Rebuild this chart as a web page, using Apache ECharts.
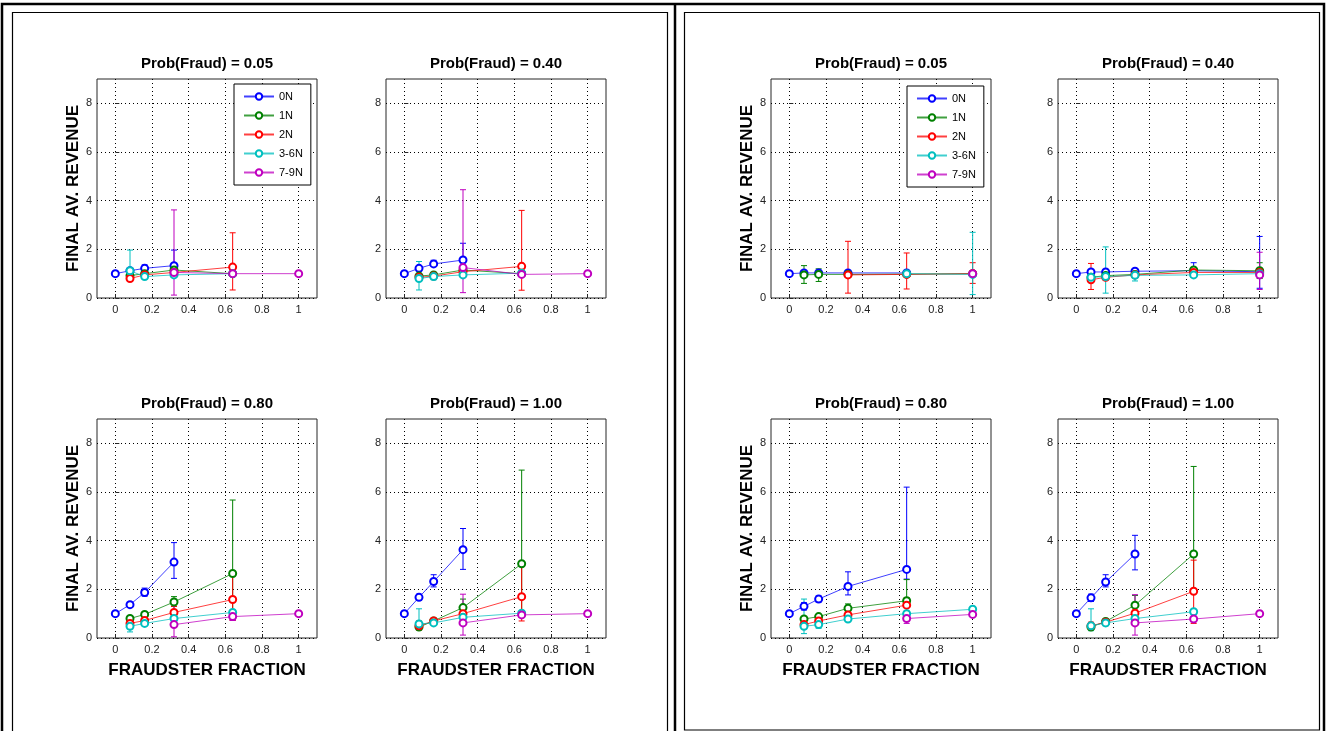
<!DOCTYPE html>
<html>
<head>
<meta charset="utf-8">
<title>Final av. revenue vs fraudster fraction</title>
<script src="https://cdn.jsdelivr.net/npm/echarts@6.0.0/dist/echarts.min.js"></script>
<style>
  html, body { margin: 0; padding: 0; background: #fff; }
  #chart { width: 1327px; height: 731px; }
</style>
</head>
<body>
<div id="chart"></div>
<script>
// shared axes / legend
const xFrac = [0, 0.08, 0.16, 0.32, 0.64, 1]
const xTicks = [0, 0.2, 0.4, 0.6, 0.8, 1]
const yTicks = [0, 2, 4, 6, 8]
const seriesNames = ['0N', '1N', '2N', '3-6N', '7-9N']
const seriesColors = ['#0000ff', '#008000', '#ff0000', '#00bfbf', '#bf00bf']
const probTitles = ['Prob(Fraud) = 0.05', 'Prob(Fraud) = 0.40', 'Prob(Fraud) = 0.80', 'Prob(Fraud) = 1.00']

// left figure: mean revenue, rows = 0N,1N,2N,3-6N,7-9N, cols = xFrac
const meanL05 = [[1.0, 1.12, 1.22, 1.33, null, null], [null, 0.92, 1.0, 1.15, 1.0, null], [null, 0.8, 0.95, 1.05, 1.27, null], [null, 1.12, 0.88, 0.95, 1.0, null], [null, null, null, 1.05, 1.0, 1.0]]
const loL05 = [[0.97, 1.06, 1.08, 0.9, null, null], [null, 0.85, 0.92, 0.95, 0.95, null], [null, 0.72, 0.9, 0.98, 0.33, null], [null, 0.72, 0.8, 0.9, 0.95, null], [null, null, null, 0.12, 0.95, 0.97]]
const hiL05 = [[1.03, 1.18, 1.36, 1.97, null, null], [null, 0.98, 1.08, 1.4, 1.05, null], [null, 0.88, 1.0, 1.1, 2.68, null], [null, 1.97, 0.95, 1.0, 1.05, null], [null, null, null, 3.62, 1.05, 1.03]]

const meanL40 = [[1.0, 1.22, 1.4, 1.56, null, null], [null, 0.9, 0.95, 1.15, 1.0, null], [null, 0.85, 0.9, 1.08, 1.3, null], [null, 0.8, 0.88, 0.95, 1.02, null], [null, null, null, 1.25, 0.97, 1.0]]
const loL40 = [[0.97, 1.15, 1.3, 0.95, null, null], [null, 0.7, 0.88, 1.0, 0.95, null], [null, 0.75, 0.85, 1.0, 0.32, null], [null, 0.33, 0.75, 0.9, 0.97, null], [null, null, null, 0.22, 0.92, 0.97]]
const hiL40 = [[1.03, 1.3, 1.55, 2.25, null, null], [null, 1.1, 1.02, 1.3, 1.05, null], [null, 0.95, 0.95, 1.15, 3.6, null], [null, 1.5, 1.02, 1.0, 1.07, null], [null, null, null, 4.45, 1.02, 1.03]]

const meanL80 = [[1.0, 1.37, 1.87, 3.12, null, null], [null, 0.8, 0.97, 1.48, 2.65, null], [null, 0.6, 0.72, 1.05, 1.58, null], [null, 0.48, 0.6, 0.8, 1.05, null], [null, null, null, 0.55, 0.88, 1.0]]
const loL80 = [[0.97, 1.3, 1.72, 2.45, null, null], [null, 0.7, 0.9, 1.3, 0.75, null], [null, 0.45, 0.62, 0.85, 0.72, null], [null, 0.25, 0.5, 0.7, 0.95, null], [null, null, null, 0.05, 0.72, 0.97]]
const hiL80 = [[1.03, 1.45, 2.05, 3.92, null, null], [null, 0.9, 1.05, 1.7, 5.67, null], [null, 0.72, 0.82, 1.3, 2.6, null], [null, 0.75, 0.7, 0.9, 1.15, null], [null, null, null, 1.45, 1.0, 1.03]]

const meanL100 = [[1.0, 1.67, 2.32, 3.63, null, null], [null, 0.45, 0.7, 1.25, 3.05, null], [null, 0.5, 0.7, 1.0, 1.7, null], [null, 0.58, 0.62, 0.85, 1.02, null], [null, null, null, 0.62, 0.95, 1.0]]
const loL100 = [[0.97, 1.55, 2.1, 2.82, null, null], [null, 0.38, 0.62, 1.0, 0.9, null], [null, 0.32, 0.62, 0.85, 0.7, null], [null, 0.4, 0.55, 0.75, 0.95, null], [null, null, null, 0.12, 0.85, 0.97]]
const hiL100 = [[1.03, 1.8, 2.6, 4.5, null, null], [null, 0.55, 0.78, 1.6, 6.9, null], [null, 0.7, 0.78, 1.3, 3.0, null], [null, 1.2, 0.7, 0.95, 1.1, null], [null, null, null, 1.8, 1.05, 1.03]]

// right figure
const meanR05 = [[1.0, 1.03, 1.03, 1.03, 1.03, null], [null, 0.95, 0.97, 0.97, 0.98, 1.0], [null, null, null, 0.95, 0.97, 1.0], [null, null, null, null, 1.0, 0.97], [null, null, null, null, null, 1.0]]
const loR05 = [[0.97, 0.95, 0.97, 0.98, 0.98, null], [null, 0.6, 0.68, 0.92, 0.93, 0.95], [null, null, null, 0.2, 0.37, 0.6], [null, null, null, null, 0.95, 0.14], [null, null, null, null, null, 0.95]]
const hiR05 = [[1.03, 1.1, 1.1, 1.08, 1.08, null], [null, 1.33, 1.2, 1.02, 1.03, 1.05], [null, null, null, 2.33, 1.85, 1.45], [null, null, null, null, 1.05, 2.7], [null, null, null, null, null, 1.05]]

const meanR40 = [[1.0, 1.07, 1.07, 1.1, 1.12, 1.08], [null, 0.85, 0.92, 0.97, 1.15, 1.12], [null, 0.75, 0.85, 0.95, 1.05, 1.05], [null, 0.85, 0.88, 0.93, 0.95, 1.0], [null, null, null, null, null, 0.95]]
const loR40 = [[0.97, 1.0, 1.0, 1.0, 0.85, 0.4], [null, 0.78, 0.85, 0.9, 1.05, 0.8], [null, 0.35, 0.75, 0.88, 0.95, 0.95], [null, 0.8, 0.2, 0.7, 0.88, 0.92], [null, null, null, null, null, 0.35]]
const hiR40 = [[1.03, 1.15, 1.15, 1.2, 1.45, 2.53], [null, 0.92, 1.0, 1.05, 1.25, 1.45], [null, 1.42, 0.95, 1.02, 1.15, 1.15], [null, 0.9, 2.1, 1.1, 1.02, 1.08], [null, null, null, null, null, 1.88]]

const meanR80 = [[1.0, 1.3, 1.6, 2.12, 2.82, null], [null, 0.78, 0.88, 1.22, 1.53, null], [null, 0.55, 0.7, 0.95, 1.35, null], [null, 0.48, 0.55, 0.78, 1.0, 1.18], [null, null, null, null, 0.8, 0.97]]
const loR80 = [[0.97, 1.15, 1.48, 1.77, 2.42, null], [null, 0.7, 0.8, 1.05, 1.3, null], [null, 0.45, 0.6, 0.85, 1.1, null], [null, 0.18, 0.4, 0.7, 0.92, 1.1], [null, null, null, null, 0.6, 0.92]]
const hiR80 = [[1.03, 1.45, 1.73, 2.72, 6.2, null], [null, 0.86, 0.96, 1.4, 2.4, null], [null, 0.65, 0.8, 1.05, 1.65, null], [null, 1.6, 0.7, 0.86, 1.08, 1.26], [null, null, null, null, 0.95, 1.02]]

const meanR100 = [[1.0, 1.65, 2.3, 3.45, null, null], [null, 0.45, 0.68, 1.35, 3.45, null], [null, 0.5, 0.65, 1.02, 1.92, null], [null, 0.5, 0.62, 0.8, 1.08, null], [null, null, null, 0.62, 0.78, 1.0]]
const loR100 = [[0.97, 1.5, 2.1, 2.8, null, null], [null, 0.38, 0.6, 1.0, 1.9, null], [null, 0.35, 0.58, 0.9, 0.6, null], [null, 0.3, 0.5, 0.72, 1.0, null], [null, null, null, 0.12, 0.7, 0.97]]
const hiR100 = [[1.03, 1.8, 2.6, 4.22, null, null], [null, 0.55, 0.76, 1.75, 7.05, null], [null, 0.65, 0.72, 1.15, 3.2, null], [null, 1.2, 0.75, 0.88, 1.15, null], [null, null, null, 1.78, 0.86, 1.03]]

// subplot order: left fig (tl, tr, bl, br), right fig (tl, tr, bl, br)
const subplots = [
  { mean: meanL05, lo: loL05, hi: hiL05, pos: [97, 79] },
  { mean: meanL40, lo: loL40, hi: hiL40, pos: [386, 79] },
  { mean: meanL80, lo: loL80, hi: hiL80, pos: [97, 419] },
  { mean: meanL100, lo: loL100, hi: hiL100, pos: [386, 419] },
  { mean: meanR05, lo: loR05, hi: hiR05, pos: [771, 79] },
  { mean: meanR40, lo: loR40, hi: hiR40, pos: [1058, 79] },
  { mean: meanR80, lo: loR80, hi: hiR80, pos: [771, 419] },
  { mean: meanR100, lo: loR100, hi: hiR100, pos: [1058, 419] }
]
const plotW = 220
const plotH = 219
const boldFont = '"Liberation Sans", Arial, sans-serif'

function renderErrorBar (params, api) {
  let x = api.value(0)
  let lo = api.coord([x, api.value(1)])
  let hi = api.coord([x, api.value(2)])
  let st = { stroke: api.visual('color'), lineWidth: 1 }
  let w = 3
  return {
    type: 'group',
    children: [
      { type: 'line', shape: { x1: lo[0], y1: lo[1], x2: hi[0], y2: hi[1] }, style: st },
      { type: 'line', shape: { x1: lo[0] - w, y1: lo[1], x2: lo[0] + w, y2: lo[1] }, style: st },
      { type: 'line', shape: { x1: hi[0] - w, y1: hi[1], x2: hi[0] + w, y2: hi[1] }, style: st }
    ]
  }
}

let option = {
  animation: false,
  backgroundColor: '#fff',
  textStyle: { fontFamily: boldFont },
  title: [],
  legend: [],
  grid: [],
  xAxis: [],
  yAxis: [],
  series: [],
  // figure frames
  graphic: [
    { type: 'rect', silent: true, shape: { x: 2, y: 4, width: 1322, height: 740 }, style: { fill: 'none', stroke: '#000', lineWidth: 2.5 } },
    { type: 'line', silent: true, shape: { x1: 675, y1: 4, x2: 675, y2: 731 }, style: { stroke: '#000', lineWidth: 2.5 } },
    { type: 'rect', silent: true, shape: { x: 12.5, y: 12.5, width: 655, height: 740 }, style: { fill: 'none', stroke: '#000', lineWidth: 1.2 } },
    { type: 'rect', silent: true, shape: { x: 684.5, y: 12.5, width: 635, height: 717.5 }, style: { fill: 'none', stroke: '#000', lineWidth: 1.2 } }
  ]
}

subplots.forEach(function (sp, i) {
  let left = sp.pos[0]
  let top = sp.pos[1]
  let isLeftCol = (i % 2 === 0)
  let isBottom = (i % 4 >= 2)

  option.title.push({
    text: probTitles[i % 4],
    left: left + plotW / 2,
    top: top - 23,
    textAlign: 'center',
    padding: 0,
    textStyle: { fontSize: 15, fontWeight: 'bold', color: '#000', fontFamily: boldFont }
  })

  option.grid.push({
    left: left, top: top, width: plotW, height: plotH,
    show: true, borderColor: '#262626', borderWidth: 1, backgroundColor: 'transparent',
    outerBoundsMode: 'none'
  })

  option.xAxis.push({
    type: 'value', gridIndex: i, min: -0.1, max: 1.1,
    name: isBottom ? 'FRAUDSTER FRACTION' : '',
    nameLocation: 'middle', nameGap: 24,
    nameTextStyle: { fontSize: 17, fontWeight: 'bold', color: '#000', fontFamily: boldFont },
    axisLine: { show: false },
    axisTick: { show: true, inside: true, length: 4, customValues: xTicks, lineStyle: { color: '#262626' } },
    axisLabel: { customValues: xTicks, fontSize: 11, color: '#222', margin: 6, formatter: function (v) { return String(v) } },
    splitLine: { show: true, lineStyle: { color: '#000', type: [1, 3], width: 1 } }
  })

  option.yAxis.push({
    type: 'value', gridIndex: i, min: 0, max: 9,
    name: isLeftCol ? 'FINAL AV. REVENUE' : '',
    nameLocation: 'middle', nameGap: 15, nameRotate: 90,
    nameTextStyle: { fontSize: 17, fontWeight: 'bold', color: '#000', fontFamily: boldFont },
    axisLine: { show: false },
    axisTick: { show: true, inside: true, length: 4, customValues: yTicks, lineStyle: { color: '#262626' } },
    axisLabel: { customValues: yTicks, fontSize: 11, color: '#222', margin: 5 },
    splitLine: { show: true, lineStyle: { color: '#000', type: [1, 3], width: 1 } }
  })

  for (let s = 0; s < seriesNames.length; s++) {
    let pts = []
    let bars = []
    xFrac.forEach(function (x, k) {
      if (sp.mean[s][k] === null) return
      pts.push([x, sp.mean[s][k]])
      bars.push([x, sp.lo[s][k], sp.hi[s][k]])
    })
    option.series.push({
      type: 'custom',
      name: seriesNames[s] + ' err',
      xAxisIndex: i, yAxisIndex: i,
      renderItem: renderErrorBar,
      itemStyle: { color: seriesColors[s] },
      encode: { x: 0, y: [1, 2] },
      silent: true,
      data: bars
    })
    option.series.push({
      type: 'line',
      name: seriesNames[s],
      xAxisIndex: i, yAxisIndex: i,
      symbol: 'emptyCircle',
      symbolSize: 7,
      color: seriesColors[s],
      lineStyle: { width: 1, opacity: 0.75 },
      itemStyle: { borderWidth: 1 },
      silent: true,
      data: pts
    })
  }
})

// one legend box per figure
let legendPos = [[234, 84], [907, 86]]
legendPos.forEach(function (p) {
  option.legend.push({
    data: seriesNames,
    orient: 'vertical',
    left: p[0], top: p[1],
    backgroundColor: '#fff',
    borderColor: '#000', borderWidth: 1, borderRadius: 0,
    padding: [7, 8, 7, 9],
    itemWidth: 30, itemHeight: 8, itemGap: 8,
    selectedMode: false,
    textStyle: { fontSize: 11, color: '#000', fontFamily: boldFont }
  })
})

let chart = echarts.init(document.getElementById('chart'))
chart.setOption(option)
</script>
</body>
</html>
